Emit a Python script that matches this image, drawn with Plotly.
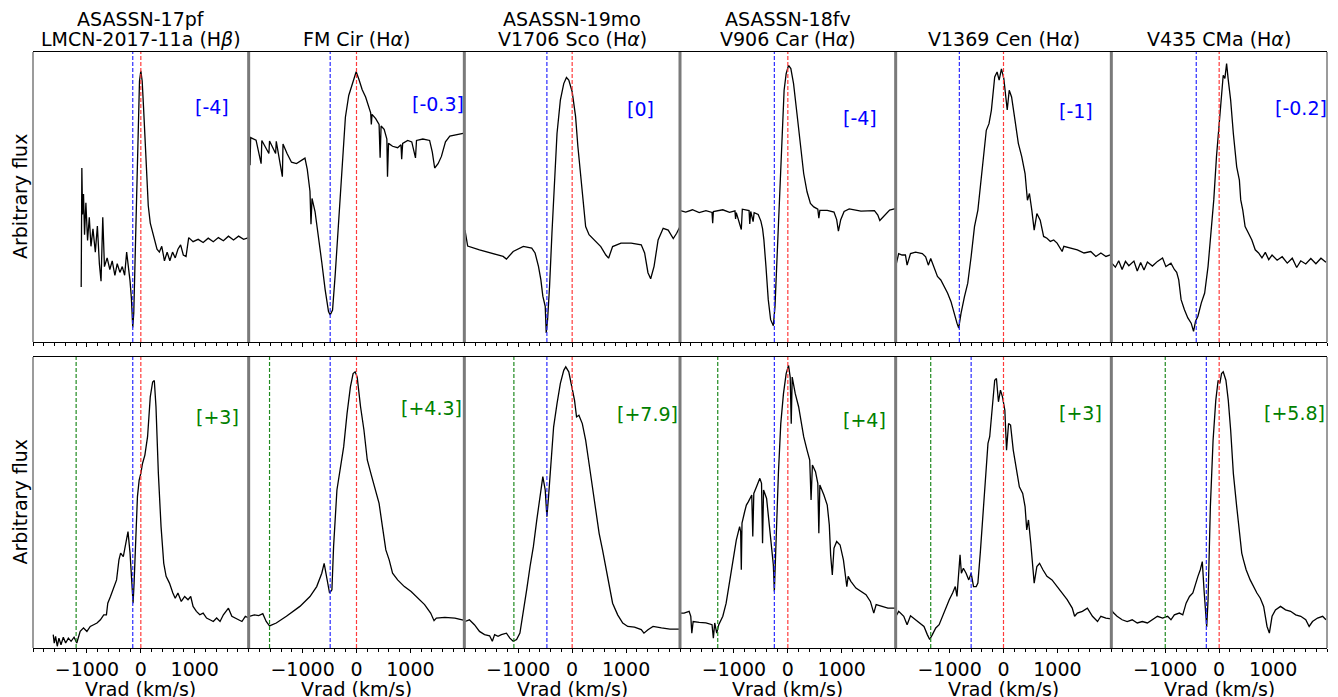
import plotly.graph_objects as go

# ---------------- data (velocity in km/s, arbitrary flux 0-100) ----------------
titles_line1 = ["ASASSN-17pf", "", "ASASSN-19mo", "ASASSN-18fv", "", ""]
titles_line2 = ["LMCN-2017-11a (H<i>β</i>)", "FM Cir (H<i>α</i>)", "V1706 Sco (H<i>α</i>)",
                "V906 Car (H<i>α</i>)", "V1369 Cen (H<i>α</i>)", "V435 CMa (H<i>α</i>)"]
x_title = "Vrad (km/s)"
y_title = "Arbitrary flux"

# early spectra (top row)
asassn17pf_early_v = [-1106,-1100,-1094,-1081,-1063,-1044,-1019,-988,-956,-925,-888,-844,-806,-769,-738,-706,-675,-625,-575,-531,-481,-438,-388,-344,-300,-263,-231,-200,-175,-150,-131,-106,-75,-50,-25,0,25,50,75,106,138,175,219,263,300,344,388,438,488,538,588,638,688,738,788,838,888,969,1063,1156,1250,1344,1438,1531,1625,1719,1813,1906,2000]
asassn17pf_early_f = [19,40,60,44,51,37,48,35,43,33,39,31,40,27,21,43,26,29,25,28,23,27,24,26,23,31,26,21,15,5,10,28,55,78,90,93.5,90,81,70,55,47,41,37.5,34,32,31,33,28,31,28,31,29,32,33.5,30,29.5,36,34.6,35.4,34.3,35.8,34.6,36,34.9,36.5,35.2,36.5,35.4,36]

fmcir_early_v = [-1988,-1975,-1963,-1863,-1769,-1756,-1625,-1613,-1500,-1488,-1375,-1363,-1288,-1206,-1113,-1019,-956,-913,-863,-844,-825,-769,-706,-644,-581,-519,-488,-444,-394,-331,-269,-206,-144,-81,-38,-6,44,106,169,231,263,275,288,356,419,438,456,513,563,575,594,669,763,825,838,856,950,1025,1094,1113,1231,1356,1406,1450,1513,1575,1650,1731,1856,2000]
fmcir_early_f = [70.8,61,70.5,69.6,61.5,69.5,65,69.3,65,69.2,57,68.3,65,62,61.5,62.5,63.4,59.5,52,40.6,49.5,45,37,27.5,18,10.5,9.3,11,23.5,42,62.5,77.5,85,89,91.8,93.2,90.6,87,84.5,81,79,75,78.5,77,75,63.5,74.5,73.3,70,57,68.5,67.5,67,68,63,68.5,69.5,69,63.5,69.5,70,69.5,65.5,60,61.5,64,69,71,71.5,72]

v1706sco_early_v = [-1988,-1938,-1719,-1469,-1281,-1219,-1094,-906,-750,-688,-625,-581,-544,-500,-481,-456,-419,-375,-331,-281,-219,-156,-106,-63,0,63,106,156,206,250,313,406,531,625,675,750,906,1094,1281,1344,1406,1456,1519,1594,1688,1781,1875,1938,2000]
v1706sco_early_f = [38.6,33.1,31.8,30.4,29.5,28.6,31.2,33,32.4,30.7,26.1,21.5,15.8,12.3,3.1,7.7,19.2,37.5,54.7,71.9,83.4,89.1,91.2,90.3,86.3,77.8,67.4,57.1,46.8,39.8,37,35.2,32.9,30,28.9,32.9,34.1,34.1,33.5,30.7,23.9,21.8,26.1,35.2,39.2,38.6,35.7,37.5,39.8]

v906car_early_v = [-1994,-1894,-1769,-1644,-1519,-1406,-1394,-1381,-1206,-1081,-981,-969,-956,-863,-844,-719,-706,-688,-644,-625,-550,-500,-469,-444,-406,-363,-319,-269,-238,-206,-163,-113,-69,-31,13,56,106,169,231,294,356,419,481,556,575,594,731,856,906,938,981,1044,1138,1356,1606,1669,1706,1794,1888,1994]
v906car_early_f = [45.3,44.8,45.6,44.6,45.3,44.7,41,45,45.6,44.7,45.2,42.4,44.6,38.8,45.8,45.3,40.7,45,41.5,44.6,44,41.7,39.1,35.2,26.1,14.6,7.7,5.6,12.3,26.1,49,71.9,86.8,92.5,95.4,94.3,89.1,78.8,68.5,58.1,51.8,47.8,46.6,45.8,42.7,45.4,45.4,44.8,42.2,38.2,42.2,45,45.9,45.1,45.3,43.8,41.9,43.8,45.5,46]

v1369cen_early_v = [-1994,-1944,-1881,-1819,-1788,-1725,-1631,-1506,-1444,-1394,-1350,-1288,-1225,-1163,-1100,-1038,-975,-913,-863,-831,-788,-725,-663,-600,-538,-475,-431,-381,-319,-269,-225,-163,-119,-81,-38,6,44,69,106,150,213,275,338,400,444,481,525,569,619,681,744,806,869,931,994,1088,1119,1244,1369,1494,1619,1713,1806,1900,1994]
v1369cen_early_f = [26.5,30.5,30,30,26.5,30.5,31,30.5,29.4,26.5,28.8,25.4,22.6,21.4,19.2,16.9,14,9.4,6.5,4.8,9.9,15.6,20.3,29.5,39.8,45.5,53.5,62.7,73,75.3,79.9,91.4,93.1,90.3,94.2,90.8,84.5,80,86.8,84.5,76.5,68.5,63.9,58.1,48.9,51.2,45.5,38.6,44.3,42,36.4,35.8,34.7,35.2,34.1,31.2,33,32.4,31.8,30.7,31.2,29.5,30.7,29.5,30.1]

v435cma_early_v = [-1988,-1925,-1863,-1800,-1738,-1675,-1581,-1519,-1456,-1394,-1331,-1238,-1144,-1050,-988,-894,-831,-788,-750,-706,-644,-581,-519,-475,-438,-394,-331,-269,-206,-144,-100,-50,0,44,75,106,138,169,213,263,325,375,400,438,481,544,606,669,731,794,856,919,981,1075,1169,1263,1356,1438,1513,1606,1700,1794,1888,1981]
v435cma_early_f = [27.1,25.8,28,25,27.8,26.3,27.9,24.5,27.4,24.8,27.6,26.2,27.8,29,26,27.2,25,24,21.4,14.6,11.1,8.3,6.5,3.7,7.2,8.9,13.5,16.9,26.1,38.6,49,63.9,74.2,83.4,92,90.9,96,90.3,83.4,71.9,60.4,55.8,49,45.5,39.8,37.5,35.2,31.8,30.7,29,30.9,28.4,30,28.2,29.4,27.2,28.9,25.7,28,26.9,28.8,27,28.9,27.5]

# late spectra (bottom row)
asassn17pf_late_v = [-1625,-1606,-1581,-1550,-1519,-1481,-1438,-1394,-1344,-1294,-1238,-1188,-1125,-1063,-1000,-938,-875,-813,-750,-688,-638,-613,-563,-500,-450,-406,-375,-325,-281,-238,-200,-169,-144,-125,-94,-63,-31,0,31,75,125,175,219,250,281,325,375,425,469,531,594,638,688,750,813,875,925,969,1031,1094,1156,1219,1281,1344,1406,1469,1531,1625,1688,1750,1813,1875,1938,2000]
asassn17pf_late_f = [4.6,1.7,4,0.6,3.4,1.1,3.7,1.7,3.4,2.3,3.7,1.7,5.7,6.9,5.7,7.4,8,8.6,9.7,11.4,11.4,15.4,17.7,21.1,23.4,30.3,32.6,31.4,36,40,32.6,23.4,15.4,22.3,37.1,52,57.7,60,63.4,66.3,72.6,86.3,91.4,91.9,82.9,60,41.7,29.1,24.6,22.3,18.9,17.1,18.9,16,17.7,16.6,17.7,14.3,12.6,11.4,12,10.3,9.7,9.1,10.3,9.1,11.4,13.7,10.9,10.3,9.7,9.1,10.9,10.3]

fmcir_late_v = [-1988,-1894,-1813,-1738,-1675,-1613,-1488,-1300,-1050,-863,-738,-644,-600,-550,-500,-456,-425,-363,-300,-238,-175,-113,-63,-25,13,75,138,200,275,356,419,481,544,606,669,763,888,1013,1138,1263,1375,1438,1481,1638,1825,2000]
fmcir_late_f = [10.9,11.4,11.1,11.8,9.1,7.6,8.6,10.9,14.3,17.7,21.1,25.7,29.1,23.4,18.9,20,34.9,54.3,62.3,69.1,80.6,89.7,94.3,94.9,93.1,82.9,74.9,64.6,59.4,54.3,49.7,41.7,33.7,30.3,25.7,23.4,21.1,19.4,17.1,14.9,12,9.4,10.3,10.5,10.3,9.5]

v1706sco_late_v = [-1988,-1906,-1813,-1719,-1625,-1531,-1481,-1438,-1375,-1313,-1219,-1156,-1094,-1031,-969,-906,-844,-781,-719,-656,-594,-544,-500,-469,-438,-394,-344,-281,-219,-156,-119,-63,0,44,81,125,188,250,313,375,438,500,563,625,688,750,844,938,1031,1156,1281,1331,1406,1500,1656,1813,2000]
v1706sco_late_f = [9.1,9.7,8,5.7,4.6,4.2,2.3,4.6,4,4.6,5.1,3.4,2.3,2.9,5.1,12,20,28,34.9,44,53.1,58.9,54.3,45.1,52,62.3,76,84,90.9,95.4,96.6,94.9,89.7,85.1,79.4,80,77.1,71.4,63.4,55.4,46.3,39.4,33.7,28,21.1,15.4,11.4,8.6,7.4,7.2,6.3,5.1,6.3,7.4,6.9,6.5,6.5]

v906car_late_v = [-1988,-1925,-1831,-1800,-1781,-1756,-1644,-1519,-1406,-1381,-1356,-1319,-1281,-1206,-1144,-1069,-1006,-956,-894,-875,-863,-850,-800,-769,-731,-694,-669,-650,-631,-581,-550,-519,-488,-469,-450,-394,-344,-300,-269,-250,-219,-175,-131,-81,-31,13,44,63,81,138,200,263,294,356,406,431,456,513,556,575,594,669,731,769,794,825,856,906,969,1031,1063,1094,1119,1169,1263,1356,1450,1531,1594,1638,1731,1856,1994]
v906car_late_f = [12,12,12.6,10.9,5.1,9.1,8.8,8.6,8,3.4,8.6,5.1,8,10.9,15.4,24.6,32.6,37.1,41.7,40,26.9,42.9,46.9,49.1,50.3,51.4,52.6,38.3,53.1,55.4,57.1,58.3,56.6,36,54.3,51.4,42.3,35.4,28.6,19.4,37.7,60,77.1,87.4,94.3,97.1,93.1,77.1,93.1,87.4,82.9,76,72.6,68,64.6,50.9,62.9,60.6,56.6,39.4,56,52.6,49.1,42.3,32,25.1,34.3,36.6,35.4,30.3,25.7,21.1,24.6,22.9,20.6,19.4,18.3,16,12,14.9,14.3,13.7,13.7]

v1369cen_late_v = [-1994,-1944,-1850,-1788,-1725,-1631,-1538,-1475,-1413,-1369,-1319,-1256,-1194,-1131,-1069,-1006,-944,-894,-863,-831,-806,-781,-744,-694,-644,-600,-556,-506,-475,-431,-381,-319,-288,-256,-206,-163,-131,-94,-56,-19,25,56,94,131,181,244,294,356,400,431,463,506,569,619,669,731,806,900,994,1088,1181,1275,1319,1369,1463,1556,1650,1744,1806,1900,1994]
v1369cen_late_f = [10.9,12.6,10.9,8,11.1,9.7,8.6,7.4,4.6,2.9,4.6,6.9,8,10.9,14.3,16.6,18.9,21.1,17.7,25.7,32,25.7,27.4,25.7,23.4,25.7,21.1,21.1,22.3,32.6,46.3,60,70.3,72.6,82.9,92,92.6,84.6,88.6,86.3,81.7,68,77.1,76.6,68,61.1,55.4,53.1,48.6,40.6,44,36,22.3,28,29.1,26.9,24.6,23.4,21.1,18.9,16.6,13.7,10.9,12,12.6,13.7,10.9,9.1,10.9,10.3,10]

v435cma_late_v = [-2000,-1956,-1894,-1800,-1706,-1613,-1519,-1425,-1331,-1238,-1144,-1050,-956,-894,-831,-738,-675,-613,-550,-488,-438,-394,-350,-313,-281,-250,-231,-206,-163,-113,-63,-19,13,44,75,125,169,213,263,325,375,419,450,500,575,638,700,763,825,888,931,981,1044,1138,1231,1325,1419,1513,1606,1669,1731,1825,1919,1981]
v435cma_late_f = [13.1,12,10.9,9.7,9.1,9.7,8.6,9.1,8.6,9.7,10.9,10.3,10.9,9.7,11.4,12,11.4,15.4,17.7,18.9,22.3,24.6,26.9,29.7,20,12,7.2,16.6,48.6,71.4,85.1,92,90.9,94.3,94.9,92,85.1,74.9,60,48.6,39.4,32.6,30.3,26.9,23.4,21.1,18.9,17.1,14.3,7.4,5.1,10.9,13.1,14.3,13.1,12.6,11.4,10.9,9.7,7.4,9.1,10.3,10.9,9.7]

early_v = [asassn17pf_early_v, fmcir_early_v, v1706sco_early_v, v906car_early_v, v1369cen_early_v, v435cma_early_v]
early_f = [asassn17pf_early_f, fmcir_early_f, v1706sco_early_f, v906car_early_f, v1369cen_early_f, v435cma_early_f]
late_v = [asassn17pf_late_v, fmcir_late_v, v1706sco_late_v, v906car_late_v, v1369cen_late_v, v435cma_late_v]
late_f = [asassn17pf_late_f, fmcir_late_f, v1706sco_late_f, v906car_late_f, v1369cen_late_f, v435cma_late_f]

# reference velocities
early_blue = [-150, -488, -469, -250, -819, -425]
late_blue = [-150, -488, -469, -250, -600, -238]
late_green = [-1200, -1613, -1081, -1300, -1350, -1000]

# day labels and their positions
early_labels = ["[-4]", "[-0.3]", "[0]", "[-4]", "[-1]", "[-0.2]"]
early_label_v = [1325, 1506, 1275, 1338, 1338, 1513]
early_label_f = [81, 82, 80.5, 77.4, 79.7, 80.8]
late_labels = ["[+3]", "[+4.3]", "[+7.9]", "[+4]", "[+3]", "[+5.8]"]
late_label_v = [1425, 1394, 1394, 1425, 1425, 1400]
late_label_f = [79.4, 82.3, 80.3, 78.3, 80.6, 80.6]

tick_vals = [-1000, 0, 1000]
tick_text = ["\u22121000", "0", "1000"]

# ---------------- figure ----------------
# the page body adds an 8 px offset, so margins are shifted by that amount
W, H = 1338, 697
ml, mr, mt, mb = 25, 19, 44, 57
FONT = "DejaVu Sans"
FS = 19
top_dom = [0.5134, 1.0]
bot_dom = [0.0, 0.4883]

fig = go.Figure()
layout = dict(
    width=W, height=H, margin=dict(l=ml, r=mr, t=mt, b=mb, autoexpand=False),
    paper_bgcolor="white", plot_bgcolor="white", showlegend=False,
    font=dict(family=FONT, size=FS, color="black"),
)
shapes = []
annotations = []

for row in range(2):
    for col in range(6):
        idx = row * 6 + col + 1
        xa = "x" if idx == 1 else f"x{idx}"
        ya = "y" if idx == 1 else f"y{idx}"
        xkey = "xaxis" if idx == 1 else f"xaxis{idx}"
        ykey = "yaxis" if idx == 1 else f"yaxis{idx}"
        dom_x = [col / 6, (col + 1) / 6]
        dom_y = top_dom if row == 0 else bot_dom
        layout[xkey] = dict(
            domain=dom_x, anchor=ya, range=[-2000, 2000], tickmode="array",
            tickvals=tick_vals, ticktext=tick_text, ticks="outside", ticklen=4,
            tickwidth=1.3, tickcolor="black", showline=True, mirror=True,
            linecolor="black", linewidth=1.2, showgrid=False, zeroline=False,
            showticklabels=(row == 1), automargin=False,
            tickfont=dict(family=FONT, size=FS, color="black"),
            minor=dict(ticks="outside", ticklen=2.5, tickwidth=1, tickcolor="black",
                       tick0=0, dtick=200, showgrid=False),
        )
        layout[ykey] = dict(domain=dom_y, anchor=xa, range=[0, 100], showticklabels=False,
                            ticks="", showgrid=False, zeroline=False, showline=False,
                            automargin=False)

        v = early_v[col] if row == 0 else late_v[col]
        f = early_f[col] if row == 0 else late_f[col]
        fig.add_trace(go.Scatter(x=v, y=f, mode="lines", xaxis=xa, yaxis=ya,
                                 line=dict(color="black", width=1.3), hoverinfo="skip"))

        # reference lines
        vlines = [(0, "#ff3b3b")]
        if row == 0:
            vlines.append((early_blue[col], "#2b2bff"))
        else:
            vlines.append((late_blue[col], "#2b2bff"))
            vlines.append((late_green[col], "#1f8a1f"))
        for xv, c in vlines:
            shapes.append(dict(type="line", xref=xa, yref=f"{ya} domain", x0=xv, x1=xv,
                               y0=0, y1=1, line=dict(color=c, width=1.2, dash="4px,2px"),
                               layer="above"))

        if row == 0:
            annotations.append(dict(x=early_label_v[col], y=early_label_f[col], xref=xa, yref=ya,
                                    text=early_labels[col], showarrow=False,
                                    font=dict(family=FONT, size=FS, color="blue")))
        else:
            annotations.append(dict(x=late_label_v[col], y=late_label_f[col], xref=xa, yref=ya,
                                    text=late_labels[col], showarrow=False,
                                    font=dict(family=FONT, size=FS, color="green")))
            # x-axis title below each bottom panel
            annotations.append(dict(x=(col + 0.5) / 6, y=0, xref="paper", yref="paper",
                                    xanchor="center", yanchor="middle", yshift=-40,
                                    height=19, valign="middle",
                                    text=x_title, showarrow=False,
                                    font=dict(family=FONT, size=FS, color="black")))

# titles (two separate lines to control spacing)
for col in range(6):
    annotations.append(dict(x=(col + 0.5) / 6, y=top_dom[1], xref="paper", yref="paper",
                            xanchor="center", yanchor="bottom", yshift=0,
                            text=titles_line2[col], showarrow=False,
                            font=dict(family=FONT, size=FS, color="black")))
    if titles_line1[col]:
        annotations.append(dict(x=(col + 0.5) / 6, y=top_dom[1], xref="paper", yref="paper",
                                xanchor="center", yanchor="bottom", yshift=20,
                                height=22, valign="middle",
                                text=titles_line1[col], showarrow=False,
                                font=dict(family=FONT, size=FS, color="black")))

# y-axis titles
for dom in (top_dom, bot_dom):
    annotations.append(dict(x=-13 / (W - ml - mr), y=(dom[0] + dom[1]) / 2, xref="paper",
                            yref="paper", xanchor="center", yanchor="middle", textangle=-90,
                            text=y_title, showarrow=False,
                            font=dict(family=FONT, size=FS, color="black")))

# gray vertical frame lines (panel separators)
for dom in (top_dom, bot_dom):
    for k in range(7):
        shapes.append(dict(type="line", xref="paper", yref="paper", x0=k / 6, x1=k / 6,
                           y0=dom[0], y1=dom[1],
                           line=dict(color="#7a7a7a", width=3 if 0 < k < 6 else 1.5),
                           layer="above"))

layout["shapes"] = shapes
layout["annotations"] = annotations
fig.update_layout(**layout)
fig.write_html("out.html")
